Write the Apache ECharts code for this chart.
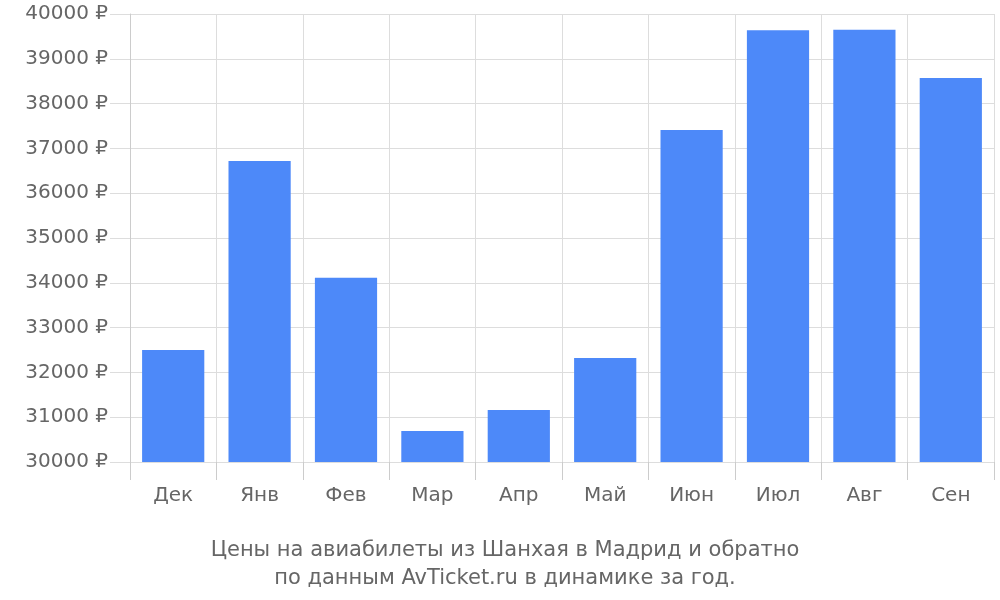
<!DOCTYPE html>
<html><head><meta charset="utf-8">
<script src="https://cdn.jsdelivr.net/npm/echarts@6/dist/echarts.min.js"></script>
<style>html,body{margin:0;padding:0;background:#fff}#c{width:1000px;height:600px}</style>
</head><body><div id="c"></div>
<script>
const categories = ['Дек','Янв','Фев','Мар','Апр','Май','Июн','Июл','Авг','Сен'];
const prices = [32500,36720,34110,30690,31160,32320,37410,39640,39650,38570];
const chart = echarts.init(document.getElementById('c'));
chart.setOption({
  animation:false,
  textStyle:{fontFamily:'DejaVu Sans'},
  title:{text:'Цены на авиабилеты из Шанхая в Мадрид и обратно\nпо данным AvTicket.ru в динамике за год.',
    left:500,textAlign:'center',top:532,textStyle:{color:'#666',fontSize:21,fontWeight:'normal',lineHeight:28,fontFamily:'DejaVu Sans'}},
  grid:{left:130,right:6,top:14,bottom:138},
  xAxis:{type:'category',data:categories,
    axisLine:{show:false},
    axisTick:{show:true,length:18,interval:0,lineStyle:{color:'#ccc'}},
    axisLabel:{color:'#666',fontSize:20,margin:24},
    splitLine:{show:true,interval:0,lineStyle:{color:'#ddd'}}},
  yAxis:{type:'value',min:30000,max:40000,interval:1000,
    axisLine:{show:true,lineStyle:{color:'#ccc'}},
    axisTick:{show:true,length:20,lineStyle:{color:'#ddd'}},
    axisLabel:{color:'#666',fontSize:20,margin:22,formatter:v=>v+' ₽'},
    splitLine:{lineStyle:{color:'#ddd'}}},
  series:[{type:'bar',data:prices,barWidth:'72%',itemStyle:{color:'#4d89f9'}}]
});
</script></body></html>
